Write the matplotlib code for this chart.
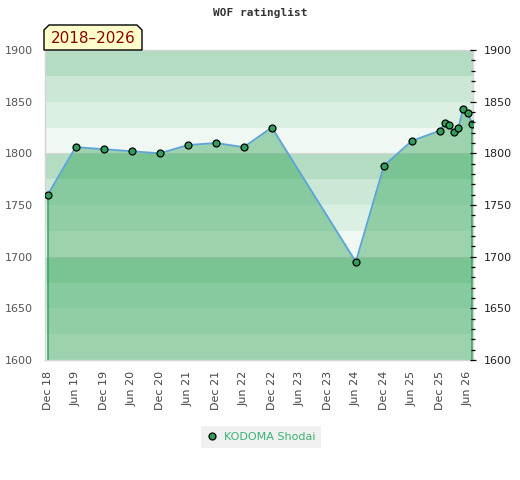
import matplotlib
matplotlib.use("Agg")
import matplotlib.pyplot as plt
import matplotlib.dates as mdates
from matplotlib.patches import Polygon
from matplotlib.ticker import MultipleLocator
import datetime as dt

# ---- data ----
dates = ["2018-12-01", "2019-06-01", "2019-12-01", "2020-06-01", "2020-12-01",
         "2021-06-01", "2021-12-01", "2022-06-01", "2022-12-01", "2024-06-01",
         "2024-12-01", "2025-06-01", "2025-12-01", "2026-01-01", "2026-02-01",
         "2026-03-01", "2026-04-01", "2026-05-01", "2026-06-01", "2026-07-01"]
ratings = [1760, 1806, 1804, 1802, 1800, 1808, 1810, 1806, 1825, 1695,
           1788, 1812, 1822, 1829, 1827, 1821, 1825, 1843, 1839, 1828]
player = "KODOMA Shodai"
title = "WOF ratinglist"
period = "2018\u20132026"
tick_dates = ["2018-12-01", "2019-06-01", "2019-12-01", "2020-06-01", "2020-12-01",
              "2021-06-01", "2021-12-01", "2022-06-01", "2022-12-01", "2023-06-01",
              "2023-12-01", "2024-06-01", "2024-12-01", "2025-06-01", "2025-12-01",
              "2026-06-01"]
tick_labels = ["Dec 18", "Jun 19", "Dec 19", "Jun 20", "Dec 20", "Jun 21", "Dec 21",
               "Jun 22", "Dec 22", "Jun 23", "Dec 23", "Jun 24", "Dec 24", "Jun 25",
               "Dec 25", "Jun 26"]
y_min, y_max = 1600, 1900

# ---- styles ----
band_colors = {75: "#b3dcc2", 50: "#cbe8d6", 25: "#dcefe3", 0: "#eff8f2"}

x = [dt.datetime.strptime(d, "%Y-%m-%d") for d in dates]
xt = [dt.datetime.strptime(d, "%Y-%m-%d") for d in tick_dates]

W, H = 520, 480
fig = plt.figure(figsize=(W / 100, H / 100), dpi=100)
ax = fig.add_axes([45 / W, 1 - 360 / H, 428 / W, 310 / H])

for lo in range(y_min, y_max, 25):
    ax.axhspan(lo, lo + 25, color=band_colors[lo % 100], lw=0, zorder=0)
for g in (1700, 1800):
    ax.axhline(g, color="#d6d6d6", lw=0.8, zorder=0.5)

ax.fill_between(x, ratings, y_min, color=(50 / 255, 164 / 255, 89 / 255), alpha=0.44,
                lw=0, zorder=1)
ax.vlines([x[0], x[-1]], y_min, [ratings[0], ratings[-1]], color="#2ea35c", lw=1.1,
          zorder=2)
ax.plot(x, ratings, color="#5ba3d8", lw=1.3, zorder=3)
ax.plot(x, ratings, ls="none", marker="o", ms=5, mfc="#2e9e5a", mec="black",
        mew=0.9, zorder=4, label=player)

ax.set_ylim(y_min, y_max)
ax.set_xlim(dt.datetime(2018, 11, 13), dt.datetime(2026, 7, 5))
ax.set_xticks(xt)
ax.set_xticklabels(tick_labels, rotation=90, fontsize=8, color="#444444")
ax.tick_params(axis="x", length=0, pad=8)
ax.yaxis.set_major_locator(MultipleLocator(50))
ax.tick_params(axis="y", length=0, pad=9, labelsize=8, labelcolor="#555555")
for s in ax.spines.values():
    s.set_color("#d4d4d4")
    s.set_linewidth(1)

ax2 = ax.twinx()
ax2.set_ylim(y_min, y_max)
ax2.yaxis.set_major_locator(MultipleLocator(50))
ax2.yaxis.set_minor_locator(MultipleLocator(10))
ax2.tick_params(axis="y", which="major", direction="inout", length=4, width=0.9,
                color="black", pad=6, labelsize=8, labelcolor="#222222")
ax2.tick_params(axis="y", which="minor", direction="inout", length=3.5, width=0.9,
                color="black")
for s in ax2.spines.values():
    s.set_visible(False)

fig.text(260 / W, 1 - 13 / H, title, ha="center", va="center", fontsize=8,
         fontweight="bold", family="DejaVu Sans Mono", color="#333333")

pts = [(44, 50), (44, 30), (49, 25), (137, 25), (142, 30), (142, 50)]
poly = Polygon([(px / W, 1 - py / H) for px, py in pts], closed=True,
               transform=fig.transFigure, facecolor="#ffffcc", edgecolor="black",
               lw=1, zorder=10)
fig.patches.append(poly)
fig.text(93 / W, 1 - 38.5 / H, period, ha="center", va="center", fontsize=11,
         color="#8b0000", zorder=11)

leg = fig.legend(loc="center", bbox_to_anchor=(261 / W, 1 - 437 / H), fontsize=8,
                 frameon=True, fancybox=False, handletextpad=0.6, borderpad=0.5,
                 handlelength=1.0)
leg.get_frame().set_facecolor("#f0f0f0")
leg.get_frame().set_edgecolor("none")
leg.get_frame().set_alpha(1)
for t in leg.get_texts():
    t.set_color("#3cb371")

fig.savefig("out.png", dpi=100)
